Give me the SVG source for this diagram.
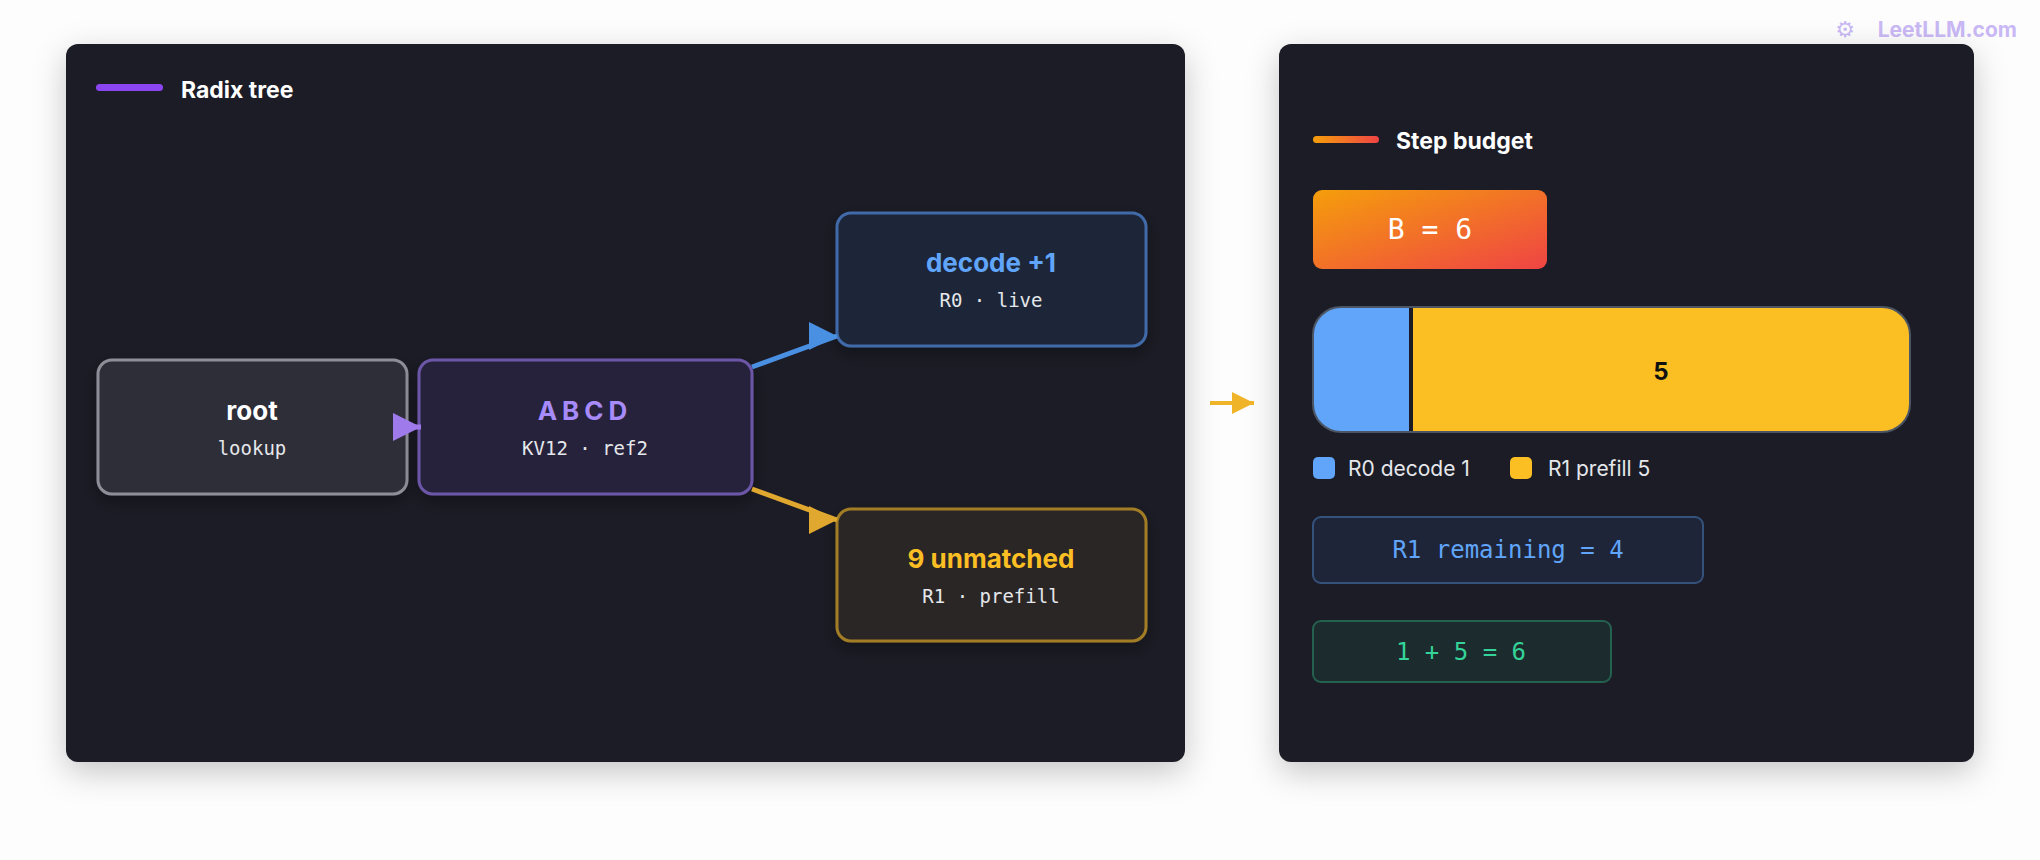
<svg xmlns="http://www.w3.org/2000/svg" width="2040" height="860" viewBox="0 0 2040 860">
<defs>
<filter id="sh" x="-10%" y="-10%" width="120%" height="125%"><feDropShadow dx="0" dy="10" stdDeviation="16" flood-color="#000" flood-opacity="0.22"/></filter>
<filter id="nsh" x="-20%" y="-20%" width="140%" height="150%"><feDropShadow dx="0" dy="6" stdDeviation="8" flood-color="#000" flood-opacity="0.35"/></filter>
<linearGradient id="og" x1="0" y1="0" x2="1" y2="1"><stop offset="0" stop-color="#f59e0b"/><stop offset="1" stop-color="#ef4444"/></linearGradient>
<linearGradient id="ol" x1="0" y1="0" x2="1" y2="0"><stop offset="0" stop-color="#f59e0b"/><stop offset="1" stop-color="#ef4444"/></linearGradient>
<marker id="mp" viewBox="0 0 10 10" refX="10" refY="5" markerWidth="28" markerHeight="30" orient="0" markerUnits="userSpaceOnUse"><path d="M0,0L10,5L0,10z" fill="#9f7aea"/></marker>
<marker id="mb" viewBox="0 0 10 10" refX="10" refY="5" markerWidth="28" markerHeight="28" orient="0" markerUnits="userSpaceOnUse"><path d="M0,0L10,5L0,10z" fill="#4a90e2"/></marker>
<marker id="my" viewBox="0 0 10 10" refX="10" refY="5" markerWidth="28" markerHeight="28" orient="0" markerUnits="userSpaceOnUse"><path d="M0,0L10,5L0,10z" fill="#e0a82e"/></marker>
<marker id="ma" viewBox="0 0 10 10" refX="10" refY="5" markerWidth="22" markerHeight="28" orient="0" markerUnits="userSpaceOnUse"><path d="M0,0L10,5L0,10z" fill="#f0b429"/></marker>
</defs>
<style>
.t{font-family:Inter,"Liberation Sans",sans-serif;font-weight:700;text-anchor:middle}
.m{font-family:"DejaVu Sans Mono","Liberation Mono",monospace;text-anchor:middle}
.h{font-family:Inter,"Liberation Sans",sans-serif;font-weight:700;font-size:23px;fill:#fff}
.l{font-family:Inter,"Liberation Sans",sans-serif;font-size:21px;fill:#e5e7eb}
</style>
<rect width="2040" height="860" fill="#fdfdfd"/>
<text x="2017" y="37" font-family="Inter,'Liberation Sans',sans-serif" font-weight="700" font-size="21" fill="#c9b8f5" text-anchor="end">LeetLLM.com</text>
<text x="1845" y="37" font-family="'DejaVu Sans',sans-serif" font-size="22" fill="#c9b8f5" text-anchor="middle">⚙</text>
<g id="panel-left"><rect x="66" y="44" width="1119" height="718" rx="12" fill="#1b1b26" filter="url(#sh)"/>
<rect x="96" y="84" width="67" height="7" rx="3.5" fill="#8b45f0"/><text class="h" x="181" y="98">Radix tree</text></g>
<g id="panel-right"><rect x="1279" y="44" width="695" height="718" rx="12" fill="#1b1b26" filter="url(#sh)"/>
<rect x="1313" y="136" width="66" height="7" rx="3.5" fill="url(#ol)"/><text class="h" x="1396" y="149">Step budget</text></g>
<g id="root"><rect x="98" y="360" width="309" height="134" rx="14" fill="#2d2d39" stroke="#8e8e98" stroke-width="3" filter="url(#nsh)"/>
<text class="t" x="252" y="420" font-size="26" fill="#fff">root</text><text class="m" x="252" y="455" font-size="19" fill="#e5e7eb">lookup</text></g>
<g id="abcd"><rect x="419" y="360" width="333" height="134" rx="14" fill="#25233b" stroke="#6c56a8" stroke-width="3" filter="url(#nsh)"/>
<text class="t" x="585" y="420" font-size="26" fill="#a78bfa" letter-spacing="5">ABCD</text><text class="m" x="585" y="455" font-size="19" fill="#e5e7eb">KV12 · ref2</text></g>
<g id="decode"><rect x="837" y="213" width="309" height="133" rx="14" fill="#1f2538" stroke="#3f6aa8" stroke-width="3" filter="url(#nsh)"/>
<text class="t" x="991" y="272" font-size="26" fill="#60a5fa">decode +1</text><text class="m" x="991" y="307" font-size="19" fill="#e5e7eb">R0 · live</text></g>
<g id="unmatched"><rect x="837" y="509" width="309" height="132" rx="14" fill="#2c2725" stroke="#a27d26" stroke-width="3" filter="url(#nsh)"/>
<text class="t" x="991" y="568" font-size="26" fill="#fbbf24">9 unmatched</text><text class="m" x="991" y="603" font-size="19" fill="#e5e7eb">R1 · prefill</text></g>
<g id="connectors">
<line x1="395" y1="427" x2="421" y2="427" stroke="#9f7aea" stroke-width="5" marker-end="url(#mp)"/>
<line x1="752" y1="367" x2="837" y2="336" stroke="#4a90e2" stroke-width="5" marker-end="url(#mb)"/>
<line x1="752" y1="489" x2="837" y2="520" stroke="#e0a82e" stroke-width="5" marker-end="url(#my)"/>
<line x1="1210" y1="403" x2="1254" y2="403" stroke="#f0b429" stroke-width="4" marker-end="url(#ma)"/>
</g>
<g id="budget"><rect x="1313" y="190" width="234" height="79" rx="9" fill="url(#og)"/>
<text class="m" x="1430" y="239" font-size="28" fill="#fff">B = 6</text></g>
<g id="bar"><clipPath id="bc"><rect x="1313" y="307" width="597" height="125" rx="28"/></clipPath>
<g clip-path="url(#bc)"><rect x="1313" y="307" width="597" height="125" fill="#fbbf24"/><rect x="1313" y="307" width="97" height="125" fill="#60a5fa"/><rect x="1409" y="307" width="4" height="125" fill="#1b1b26"/></g>
<rect x="1313" y="307" width="597" height="125" rx="28" fill="none" stroke="#4b5563" stroke-width="2"/>
<text class="t" x="1661" y="380" font-size="24" fill="#111">5</text></g>
<g id="legend"><rect x="1313" y="457" width="22" height="22" rx="5" fill="#60a5fa"/><text class="l" x="1348" y="476">R0 decode 1</text>
<rect x="1510" y="457" width="22" height="22" rx="5" fill="#fbbf24"/><text class="l" x="1548" y="476">R1 prefill 5</text></g>
<g id="remaining"><rect x="1313" y="517" width="390" height="66" rx="8" fill="#1f2538" stroke="#34527c" stroke-width="2"/>
<text class="m" x="1508" y="558" font-size="24" fill="#60a5fa">R1 remaining = 4</text></g>
<g id="sum"><rect x="1313" y="621" width="298" height="61" rx="8" fill="#1c2b2d" stroke="#24614f" stroke-width="2"/>
<text class="m" x="1461" y="660" font-size="24" fill="#34d399">1 + 5 = 6</text></g>
</svg>
